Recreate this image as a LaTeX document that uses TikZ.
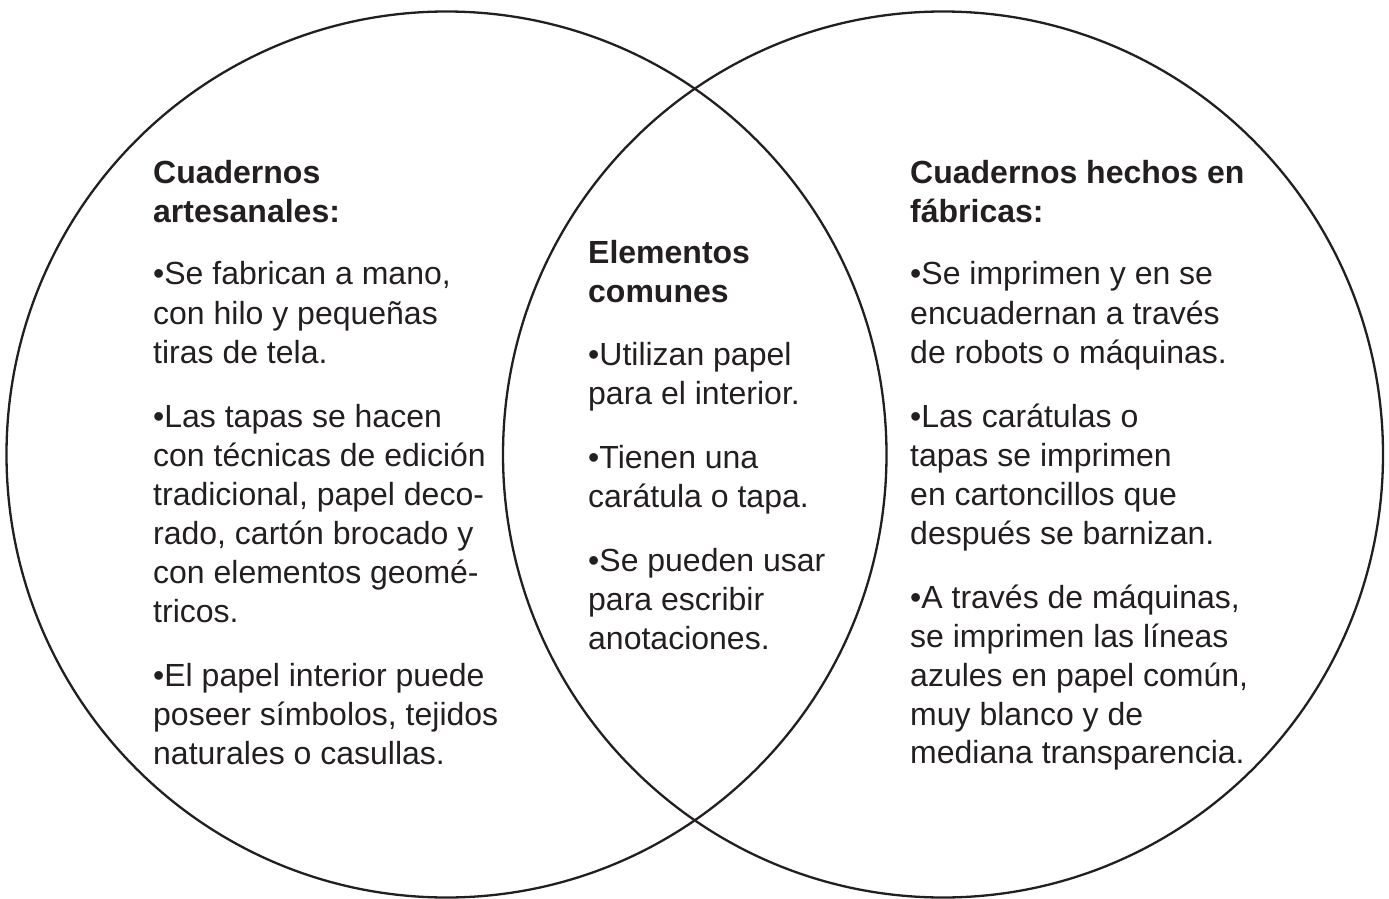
\documentclass[tikz,border=0pt]{standalone}
\usepackage{fontspec}
\setmainfont{Liberation Sans}
\definecolor{ink}{HTML}{231F20}
\tikzset{
  ring/.style={draw=ink, line width=2.3pt},
  txt/.style={anchor=base west, inner sep=0pt, text=ink, font=\fontsize{32}{39}\selectfont},
  hd/.style={txt, font=\bfseries\fontsize{32}{39}\selectfont}
}
\begin{document}
\begin{tikzpicture}[x=1pt, y=-1pt]
\useasboundingbox (0,0) rectangle (1389,899);
\clip (0,0) rectangle (1389,899);
% circles
\draw[ring] (446.5,454.5) ellipse [x radius=440pt, y radius=443pt];
\draw[ring] (943,454.5) ellipse [x radius=440pt, y radius=443pt];
% left column
\node[hd] (Lh1) at (153,183) {Cuadernos};
\node[hd] (Lh2) at (153,222) {artesanales:};
\foreach \y/\t [count=\i] in {
  284/{•Se fabrican a mano,},
  324/{con hilo y pequeñas},
  363/{tiras de tela.},
  427/{•Las tapas se hacen},
  466/{con técnicas de edición},
  505/{tradicional, papel deco-},
  544/{rado, cartón brocado y},
  583/{con elementos geomé-},
  622/{tricos.},
  686/{•El papel interior puede},
  725/{poseer símbolos, tejidos},
  764/{naturales o casullas.}}
  \node[txt] (L\i) at (153,\y) {\t};
% middle column
\node[hd] (Mh1) at (588,263) {Elementos};
\node[hd] (Mh2) at (588,302) {comunes};
\foreach \y/\t [count=\i] in {
  365/{•Utilizan papel},
  404/{para el interior.},
  468/{•Tienen una},
  507/{carátula o tapa.},
  571/{•Se pueden usar},
  610/{para escribir},
  649/{anotaciones.}}
  \node[txt] (M\i) at (588,\y) {\t};
% right column
\node[hd] (Rh1) at (910,183) {Cuadernos hechos en};
\node[hd] (Rh2) at (910,222) {fábricas:};
\foreach \y/\t [count=\i] in {
  284/{•Se imprimen y en se},
  324/{encuadernan a través},
  363/{de robots o máquinas.},
  427/{•Las carátulas o},
  466/{tapas se imprimen},
  505/{en cartoncillos que},
  544/{después se barnizan.},
  608/{•A través de máquinas,},
  647/{se imprimen las líneas},
  686/{azules en papel común,},
  725/{muy blanco y de},
  763/{mediana transparencia.}}
  \node[txt] (R\i) at (910,\y) {\t};
\end{tikzpicture}
\end{document}
